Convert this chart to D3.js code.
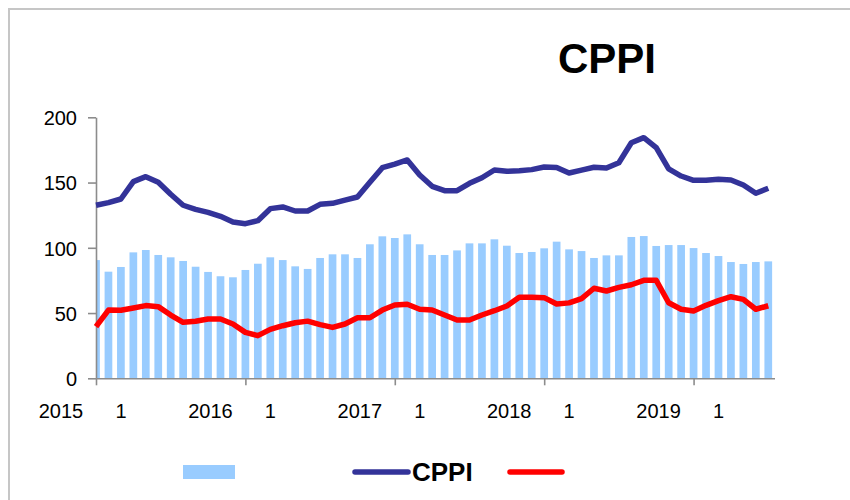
<!DOCTYPE html>
<html>
<head>
<meta charset="utf-8">
<script src="https://cdn.jsdelivr.net/npm/d3@7"></script>
<style>
  body { margin: 0; background: #fff; }
  svg { display: block; font-family: "Liberation Sans", Arial, sans-serif; }
  .axis .domain { stroke: #8c8c8c; stroke-width: 1.6; }
  .axis .tick line { stroke: #8c8c8c; stroke-width: 1.6; }
  .axis text { fill: #000; font-size: 20px; }
</style>
</head>
<body>
<div id="chart"></div>
<script>
// ---- data (monthly, Jan 2015 .. Jul 2019) ----
const years      = ['2015', '2016', '2017', '2018', '2019'];
const subLabels  = ['1', '1', '1', '1', '1'];
const yTicks     = [0, 50, 100, 150, 200];

const barValues = [
  90.6, 81.7, 85.3, 96.5, 98.3, 94.5, 92.7, 89.9, 85.5, 81.5,
  78.2, 77.4, 83.0, 87.8, 92.7, 90.6, 85.8, 83.8, 92.2, 95.0,
  95.0, 92.2, 102.7, 108.8, 107.5, 110.3, 102.7, 94.5, 94.5, 98.0,
  103.4, 103.4, 106.5, 101.6, 96.0, 96.8, 99.6, 104.7, 98.8, 97.5,
  92.2, 94.2, 94.2, 108.3, 109.0, 101.4, 102.1, 102.1, 99.8, 96.0,
  93.7, 89.1, 87.6, 89.1, 89.6
];

const cppiValues = [
  132.6, 134.6, 137.4, 150.7, 154.5, 150.2, 141.0, 132.6, 129.5, 127.2,
  124.1, 119.8, 118.5, 120.8, 130.0, 131.3, 128.2, 128.2, 133.3, 134.1,
  136.6, 138.9, 150.2, 161.4, 164.2, 167.3, 155.8, 147.1, 143.8, 143.8,
  149.4, 153.7, 159.6, 158.6, 159.1, 159.9, 161.9, 161.6, 157.3, 159.5,
  161.7, 161.1, 165.2, 180.5, 184.4, 176.7, 160.4, 155.0, 151.7, 151.7,
  152.5, 152.0, 148.1, 141.8, 145.6
];

const redValues = [
  39.6, 52.3, 52.1, 53.9, 55.7, 54.9, 48.5, 42.9, 43.7, 45.4,
  45.4, 41.6, 35.2, 32.7, 37.5, 40.3, 42.6, 43.8, 41.1, 39.0,
  41.6, 46.4, 46.4, 52.3, 56.2, 56.7, 52.9, 52.3, 48.5, 44.7,
  44.7, 48.5, 51.8, 55.4, 62.1, 62.1, 61.8, 56.9, 57.8, 61.0,
  69.0, 66.9, 69.7, 71.7, 75.1, 75.1, 57.9, 52.9, 51.6, 55.9,
  59.5, 62.5, 60.5, 52.9, 55.6
];

// ---- layout ----
const W = 850, H = 500;
const PLOT_L = 96, PLOT_R = 774.5, PLOT_T = 117.3, PLOT_B = 378.3;
const BAR_W = 7.7;

const svg = d3.select('#chart').append('svg')
  .attr('width', W).attr('height', H);

svg.append('rect').attr('width', W).attr('height', H).attr('fill', '#fff');

// frame (top + left edge only, as in the source image)
svg.append('path')
  .attr('d', `M9,${H} V9 H${W}`)
  .attr('fill', 'none')
  .attr('stroke', '#c6c6c6')
  .attr('stroke-width', 2);

const x = d3.scaleLinear().domain([0, barValues.length - 0.5]).range([PLOT_L, PLOT_R]);
const y = d3.scaleLinear().domain([0, 200]).range([PLOT_B, PLOT_T]);

svg.append('clipPath').attr('id', 'plot-clip')
  .append('rect')
  .attr('x', PLOT_L).attr('y', 0)
  .attr('width', PLOT_R - PLOT_L).attr('height', PLOT_B);

// ---- bars ----
svg.append('g').attr('clip-path', 'url(#plot-clip)')
  .selectAll('rect')
  .data(barValues)
  .enter()
  .append('rect')
  .attr('x', (d, i) => x(i) - BAR_W / 2)
  .attr('y', d => y(d))
  .attr('width', BAR_W)
  .attr('height', d => y(0) - y(d))
  .attr('fill', '#99ccff');

// ---- axes ----
const yAxis = d3.axisLeft(y).tickValues(yTicks).tickSize(8).tickSizeOuter(0).tickPadding(11);
svg.append('g').attr('class', 'axis')
  .attr('transform', `translate(${PLOT_L},0)`)
  .call(yAxis)
  .selectAll('text').attr('dy', '0.36em');

const yearIdx = years.map((_, i) => i * 12);
const xAxis = d3.axisBottom(x).tickValues(yearIdx).tickFormat('').tickSize(7).tickSizeOuter(0);
svg.append('g').attr('class', 'axis')
  .attr('transform', `translate(0,${PLOT_B})`)
  .call(xAxis);

const xl = svg.append('g').attr('class', 'axis');
years.forEach((yr, k) => {
  xl.append('text')
    .attr('x', x(yearIdx[k]) - 35)
    .attr('y', 418)
    .attr('text-anchor', 'middle')
    .text(yr);
  xl.append('text')
    .attr('x', x(yearIdx[k]) + 25)
    .attr('y', 418)
    .attr('text-anchor', 'middle')
    .text(subLabels[k]);
});

// ---- lines ----
const line = d3.line().x((d, i) => x(i)).y(d => y(d));

svg.append('path')
  .datum(cppiValues)
  .attr('d', line)
  .attr('fill', 'none')
  .attr('stroke', '#333399')
  .attr('stroke-width', 5.5)
  .attr('stroke-linejoin', 'round');

svg.append('path')
  .datum(redValues)
  .attr('d', line)
  .attr('fill', 'none')
  .attr('stroke', '#ff0000')
  .attr('stroke-width', 5.5)
  .attr('stroke-linejoin', 'round');

// ---- title ----
svg.append('text')
  .attr('x', 607).attr('y', 73)
  .attr('text-anchor', 'middle')
  .attr('font-size', 42)
  .attr('font-weight', 'bold')
  .text('CPPI');

// ---- legend ----
const lg = svg.append('g');
lg.append('rect')
  .attr('x', 183).attr('y', 465).attr('width', 52).attr('height', 14)
  .attr('fill', '#99ccff');
lg.append('line')
  .attr('x1', 355).attr('x2', 408).attr('y1', 472).attr('y2', 472)
  .attr('stroke', '#333399').attr('stroke-width', 5.5).attr('stroke-linecap', 'round');
lg.append('text')
  .attr('x', 412).attr('y', 481)
  .attr('font-size', 26).attr('font-weight', 'bold')
  .text('CPPI');
lg.append('line')
  .attr('x1', 510).attr('x2', 562).attr('y1', 472).attr('y2', 472)
  .attr('stroke', '#ff0000').attr('stroke-width', 5.5).attr('stroke-linecap', 'round');
</script>
</body>
</html>
